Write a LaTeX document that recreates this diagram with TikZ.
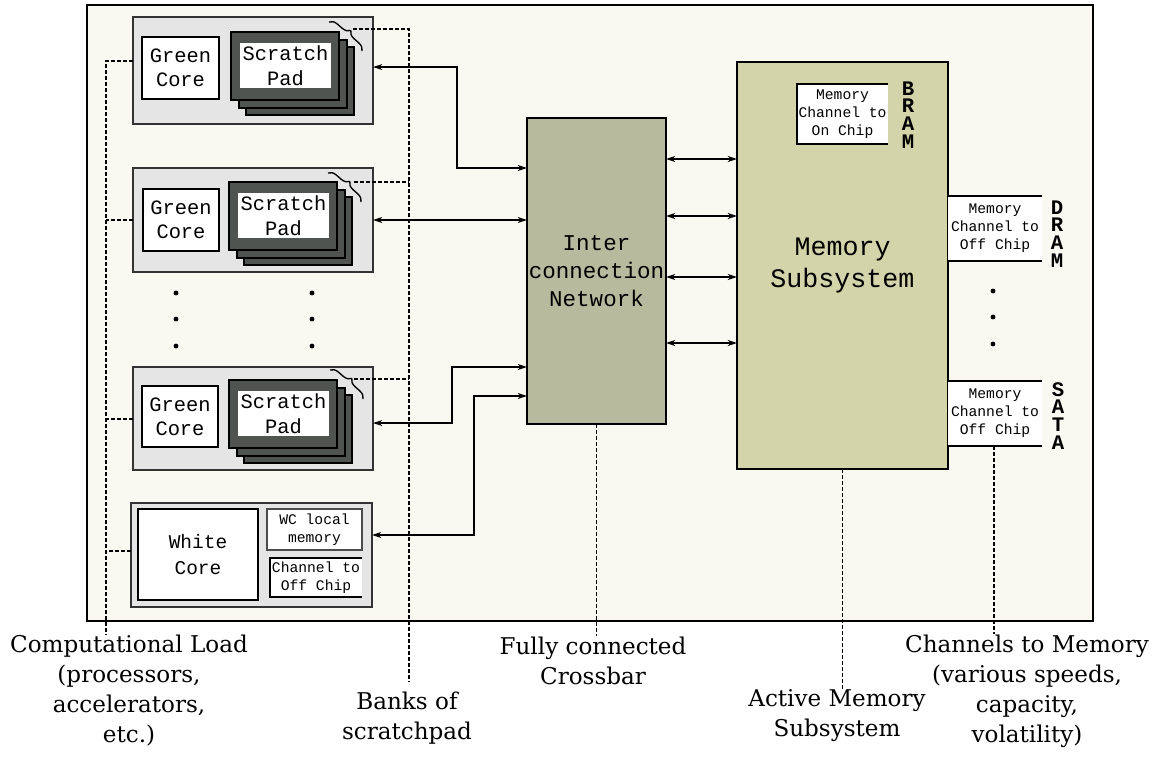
\documentclass[tikz,border=0pt]{standalone}
\usepackage{fontspec}
\setmainfont{DejaVu Serif}
\newfontfamily\mono{Liberation Mono}
\usetikzlibrary{arrows.meta,decorations.pathreplacing}
\definecolor{bgc}{HTML}{F9F9F2}
\definecolor{blockc}{HTML}{E5E5E5}
\definecolor{padc}{HTML}{4F5451}
\definecolor{icnc}{HTML}{B8BA9E}
\definecolor{msc}{HTML}{D3D4AA}
\tikzset{
  px box/.style 2 args={anchor=north west, inner sep=0pt, outer sep=0pt,
    minimum width=#1*0.75pt, minimum height=#2*0.75pt},
  framebox/.style={draw=black, line width=1.6pt, fill=bgc},
  blockbox/.style={draw=black!80, line width=1.2pt, fill=blockc},
  corebox/.style={draw=black, line width=1.2pt, fill=white, align=center,
    font=\mono\fontsize{15.3}{18}\selectfont},
  padbox/.style={draw=black, line width=1.4pt, fill=padc},
  padlabel/.style={fill=white, align=center, font=\mono\fontsize{15.3}{18.5}\selectfont},
  smallbox/.style={fill=white, align=center, font=\mono\fontsize{11}{13.6}\selectfont},
  bigbox/.style={draw=black, line width=1.1pt, align=center},
  vletters/.style={inner sep=0pt, align=center, font=\mono\bfseries\fontsize{15.5}{13.4}\selectfont},
  link/.style={line width=0.9pt, >={Stealth[length=7pt,width=4.5pt]}, <->},
  leader/.style={line width=1.2pt, dash pattern=on 3pt off 1.5pt},
  openline/.style={line width=1.5pt},
  lbl/.style={inner sep=0pt, align=center, font=\fontsize{17.3}{22.5}\selectfont},
  dotm/.style={circle, fill=black, inner sep=0pt, minimum size=3.6pt},
  padbrace/.style={line width=1pt, decorate, decoration={brace, amplitude=6pt}},
}
\newcommand{\padstack}[3]{%
  \node[padbox, px box={108}{68}] (#1c) at ({#2+15},{#3+15}) {};
  \node[padbox, px box={108}{68}] (#1b) at ({#2+8},{#3+8}) {};
  \node[padbox, px box={108}{68}] (#1) at (#2,#3) {};
  \node[padlabel, px box={91}{45}] (#1t) at ({#2+9},{#3+11}) {Scratch\\Pad};
}
\begin{document}
\begin{tikzpicture}[x=0.75pt,y=-0.75pt]
\useasboundingbox (0,0) rectangle (1160,757);
\fill[white] (0,0) rectangle (1160,757);
\node[framebox, px box={1006}{616}] (frame) at (87,5) {};

% computational blocks
\node[blockbox, px box={240}{107}] (b1) at (133,17) {};
\node[blockbox, px box={240}{104}] (b2) at (133,168) {};
\node[blockbox, px box={240}{103}] (b3) at (133,367) {};
\node[blockbox, px box={241}{104}] (b4) at (131,503) {};

\node[corebox, px box={77}{62}] (g1) at (142,37) {Green\\Core};
\node[corebox, px box={76}{62}] (g2) at (143,189) {Green\\Core};
\node[corebox, px box={76}{61}] (g3) at (142,386) {Green\\Core};

\padstack{s1}{231}{32}
\padstack{s2}{229}{182}
\padstack{s3}{229}{380}

\draw[padbrace] (329,22) -- (362,51);
\draw[padbrace] (328,173) -- (361,202);
\draw[padbrace] (330,370) -- (363,399);

% white core block
\node[draw=black, line width=1.1pt, fill=white, px box={120}{91}, align=center,
  font=\mono\fontsize{14.6}{18.8}\selectfont] (wc) at (138,509) {White\\Core};
\node[smallbox, draw=black!70, line width=0.9pt, px box={95}{41}] (wcm) at (267,509) {WC local\\memory};
\node[smallbox, px box={92}{39}] (wcc) at (270,558) {Channel to\\Off Chip};
\draw[line width=1.1pt] (wcc.north east) -- (wcc.north west) -- (wcc.south west) -- (wcc.south east);

% dots
\foreach \yy in {293,319,346} {
  \node[dotm] at (176,\yy) {};
  \node[dotm] at (312,\yy) {};
}
\foreach \yy in {291,317,344} { \node[dotm] at (993,\yy) {}; }

% interconnection network
\node[bigbox, fill=icnc, px box={139}{306}, font=\mono\fontsize{16.9}{21}\selectfont]
  (icn) at (527,118) {Inter\\connection\\Network};

% memory subsystem
\node[bigbox, fill=msc, px box={211}{407}, font=\mono\fontsize{20}{24}\selectfont]
  (ms) at (737,62) {Memory\\Subsystem};

\node[smallbox, px box={91}{60}] (bram) at (797,84) {Memory\\Channel to\\On Chip};
\draw[openline] (bram.north east) -- (bram.north west) -- (bram.south west) -- (bram.south east);
\node[vletters] (bramlbl) at (908,115) {B\\R\\A\\M};

\node[smallbox, px box={94}{65}] (dram) at (948,196) {Memory\\Channel to\\Off Chip};
\draw[openline] (dram.north west) -- (dram.north east) (dram.south west) -- (dram.south east);
\node[vletters] (dramlbl) at (1057,234) {D\\R\\A\\M};

\node[smallbox, px box={94}{65}] (sata) at (948,381) {Memory\\Channel to\\Off Chip};
\draw[openline] (sata.north west) -- (sata.north east) (sata.south west) -- (sata.south east);
\node[vletters] (satalbl) at (1058,416) {S\\A\\T\\A};

% connectors blocks <-> ICN
\coordinate (c1) at (457,168);
\coordinate (c3) at (452,367);
\coordinate (c4) at (474,396);
\draw[link] ([yshift=2.6pt]b1.east) -| (c1) -- (icn.west |- c1);
\draw[link] (b2.east) -- (icn.west |- b2.east);
\draw[link] ([yshift=-3.4pt]b3.east) -| (c3) -- (icn.west |- c3);
\draw[link] ([yshift=15pt]b4.east) -| (c4) -- (icn.west |- c4);

% ICN <-> memory subsystem
\foreach \yy [count=\i] in {159,216,277,343} {
  \coordinate (r\i) at (700,\yy);
  \draw[link] (icn.east |- r\i) -- (ms.west |- r\i);
}

% labels (anchor base = baseline of the last line)
\node[lbl, anchor=base] (comp) at (129,742) {Computational Load\\(processors,\\accelerators,\\etc.)};
\node[lbl, anchor=base] (banks) at (407,739) {Banks of\\scratchpad};
\node[lbl, anchor=base] (xbar) at (593,684) {Fully connected\\Crossbar};
\node[lbl, anchor=base] (actm) at (837,736) {Active Memory\\Subsystem};
\node[lbl, anchor=base] (chan) at (1027,742) {Channels to Memory\\(various speeds,\\capacity,\\volatility)};

% leaders
\coordinate (xl) at (106,0);
\coordinate (xb) at (409,0);
\draw[leader] ([yshift=7pt]b1.west) -- ([yshift=7pt]b1.west -| xl) -- (xl |- comp.north);
\draw[leader] (b2.west) -- (b2.west -| xl);
\draw[leader] ([yshift=-0.4pt]b3.west) -- ([yshift=-0.4pt]b3.west -| xl);
\draw[leader] ([yshift=3pt]b4.west) -- ([yshift=3pt]b4.west -| xl);

\coordinate (t1) at (353,29);
\coordinate (t2) at (354,182);
\coordinate (t3) at (354,379);
\draw[leader] (t1) -- (xb |- t1) -- ([yshift=7pt]xb |- banks.north);
\draw[leader] (t2) -- (xb |- t2);
\draw[leader] (t3) -- (xb |- t3);

\draw[leader] (icn.south) -- (icn.south |- xbar.north);
\draw[leader] (ms.south) -- (ms.south |- actm.north);
\draw[leader] (sata.south -| 994,0) -- (chan.north -| 994,0);
\end{tikzpicture}
\end{document}
